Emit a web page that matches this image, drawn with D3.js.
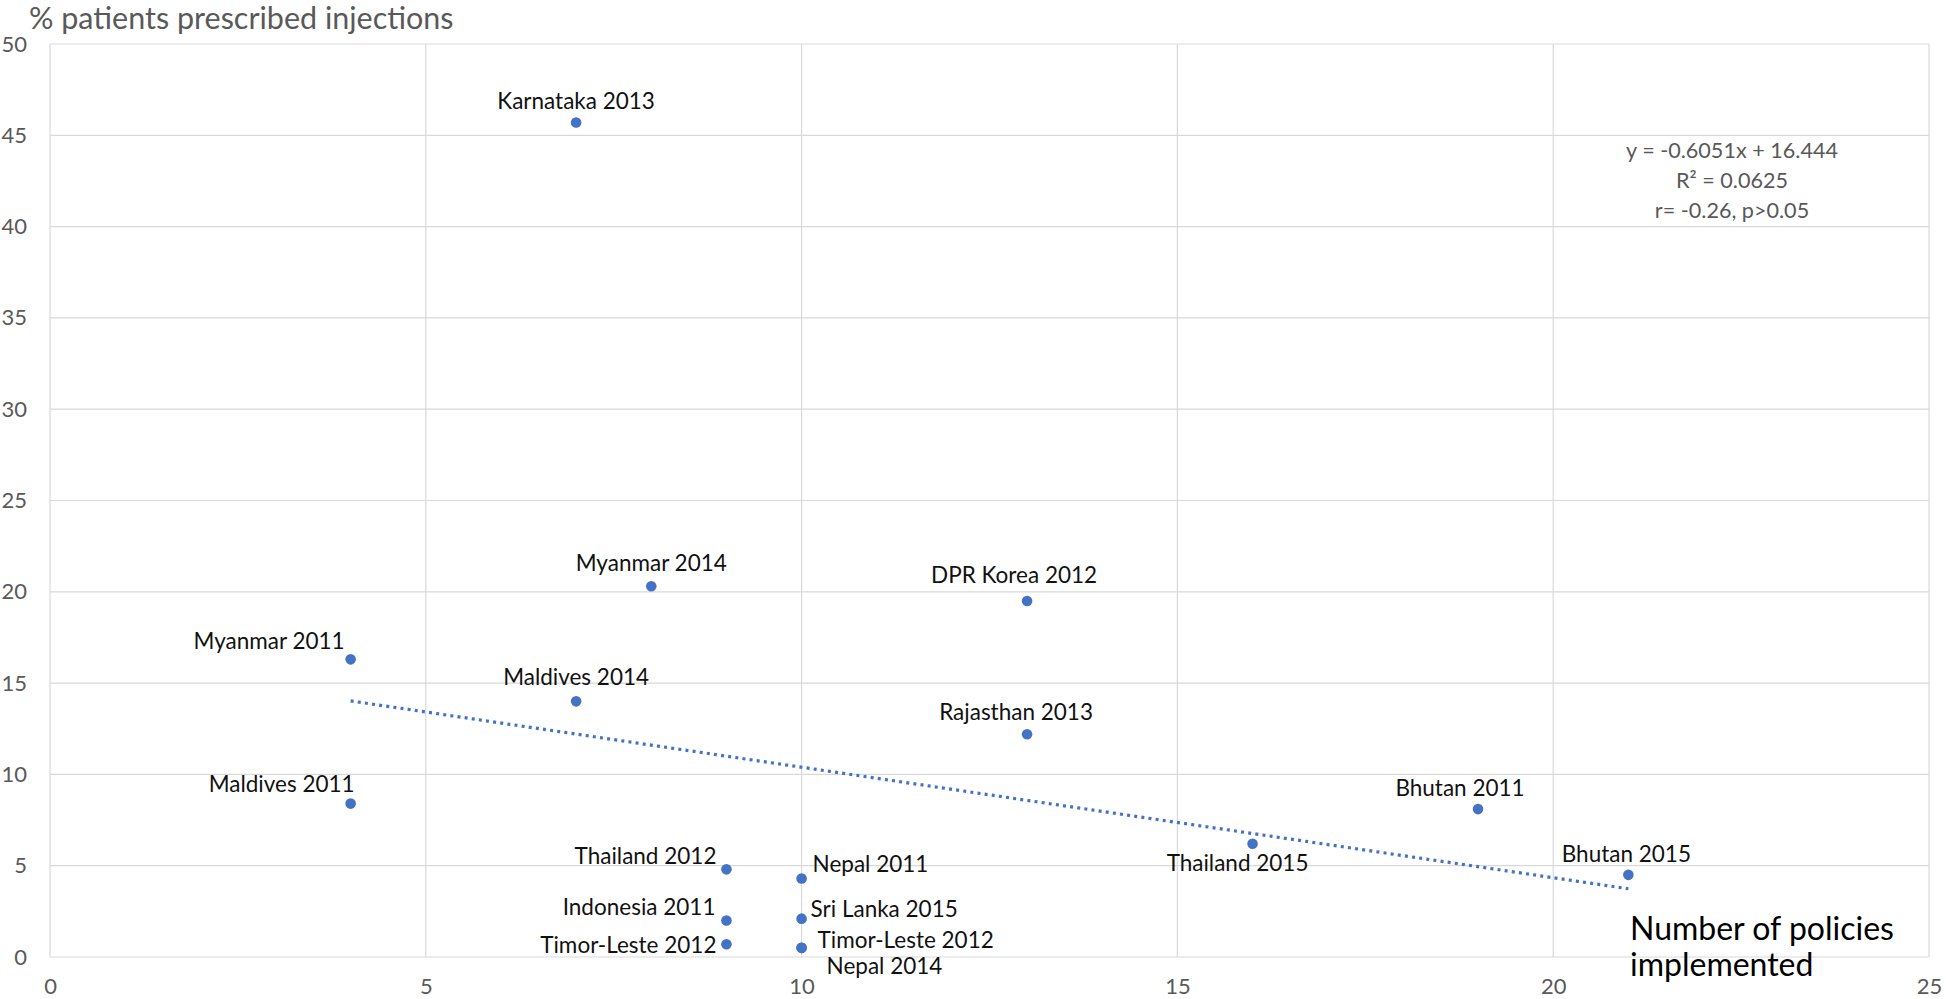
<!DOCTYPE html>
<html>
<head>
<meta charset="utf-8">
<script src="https://cdn.jsdelivr.net/npm/d3@7/dist/d3.min.js"></script>
<style>
  html, body { margin: 0; padding: 0; background: #fff; }
  svg { display: block; font-family: Lato, "Open Sans", sans-serif; }
</style>
</head>
<body>
<svg id="chart" width="1946" height="999"></svg>
<script>
// ---- data ----
const labels = ["Karnataka 2013", "Myanmar 2014", "DPR Korea 2012", "Myanmar 2011", "Maldives 2014",
  "Rajasthan 2013", "Maldives 2011", "Bhutan 2011", "Thailand 2015", "Thailand 2012", "Nepal 2011",
  "Bhutan 2015", "Indonesia 2011", "Sri Lanka 2015", "Timor-Leste 2012", "Timor-Leste 2012", "Nepal 2014"];
const policies = [7, 8, 13, 4, 7, 13, 4, 19, 16, 9, 10, 21, 9, 10, 9, 10, 10];
const injections = [45.7, 20.3, 19.5, 16.3, 14.0, 12.2, 8.4, 8.1, 6.2, 4.8, 4.3, 4.5, 2.0, 2.1, 0.7, 0.5, 0.5];
const xTicks = [0, 5, 10, 15, 20, 25];
const yTicks = [0, 5, 10, 15, 20, 25, 30, 35, 40, 45, 50];
const trendSlope = -0.6051;
const trendIntercept = 16.444;
const trendRange = [4, 21];
const equationLines = ["y = -0.6051x + 16.444", "R\u00B2 = 0.0625", "r= -0.26, p>0.05"];
const yTitle = "% patients prescribed injections";
const xTitleLines = ["Number of policies", "implemented"];

// ---- label layout (anchor, dx, dy) separate from data ----
const labelLayout = [
  ["middle", 0, -22], ["middle", 0, -24], ["middle", -13, -26], ["end", -6, -19], ["middle", 0, -25],
  ["middle", -11, -23], ["end", 4, -20], ["middle", -18, -22], ["middle", -15, 19], ["end", -10, -14],
  ["start", 11, -15], ["middle", -2, -21], ["end", -11, -14], ["start", 9, -10], ["end", -10, 0],
  ["start", 16, -8], ["start", 25, 18]
];

// ---- layout ----
const svg = d3.select("#chart");
const mLeft = 50, mRight = 1929, mTop = 44, mBottom = 957;
const x = d3.scaleLinear().domain([0, 25]).range([mLeft, mRight]);
const y = d3.scaleLinear().domain([0, 50]).range([mBottom, mTop]);
const blue = "#4472C4", grey = "#595959", grid = "#d9d9d9";

// gridlines
svg.append("g").selectAll("line").data(yTicks).join("line")
  .attr("x1", mLeft).attr("x2", mRight)
  .attr("y1", d => y(d)).attr("y2", d => y(d))
  .attr("stroke", grid).attr("stroke-width", 1.2);
svg.append("g").selectAll("line").data(xTicks).join("line")
  .attr("y1", mTop).attr("y2", mBottom)
  .attr("x1", d => x(d)).attr("x2", d => x(d))
  .attr("stroke", grid).attr("stroke-width", 1.2);

// axes (tick labels only)
const yAxis = svg.append("g").attr("transform", `translate(${mLeft},0)`)
  .call(d3.axisLeft(y).tickValues(yTicks).tickSize(0).tickPadding(23));
yAxis.select(".domain").remove();
yAxis.selectAll("text").attr("font-size", 22).attr("fill", grey).attr("font-family", "Lato");

const xAxis = svg.append("g").attr("transform", `translate(0,${mBottom})`)
  .call(d3.axisBottom(x).tickValues(xTicks).tickSize(0).tickPadding(21));
xAxis.select(".domain").remove();
xAxis.selectAll("text").attr("font-size", 22).attr("fill", grey).attr("font-family", "Lato");

// trendline
const trendLine = d3.line().x(d => x(d)).y(d => y(trendSlope * d + trendIntercept));
svg.append("path").datum(trendRange).attr("d", trendLine)
  .attr("fill", "none").attr("stroke", blue).attr("stroke-width", 3.2)
  .attr("stroke-dasharray", "3,4.2");

// points
const pts = labels.map((l, i) => ({ label: l, x: policies[i], y: injections[i], lay: labelLayout[i] }));
svg.append("g").selectAll("circle").data(pts).join("circle")
  .attr("cx", d => x(d.x)).attr("cy", d => y(d.y)).attr("r", 5.3).attr("fill", blue);

// data labels
svg.append("g").selectAll("text").data(pts).join("text")
  .attr("x", d => x(d.x) + d.lay[1]).attr("y", d => y(d.y) + d.lay[2])
  .attr("text-anchor", d => d.lay[0]).attr("dominant-baseline", "central")
  .attr("font-size", 22.5).attr("fill", "#111").text(d => d.label);

// equation
svg.append("g").selectAll("text").data(equationLines).join("text")
  .attr("x", 1732).attr("y", (d, i) => 150 + i * 30)
  .attr("text-anchor", "middle").attr("dominant-baseline", "central")
  .attr("font-size", 21.6).attr("fill", grey).text(d => d);

// titles
svg.append("text").attr("x", 29).attr("y", 17).attr("dominant-baseline", "central")
  .attr("font-size", 30.5).attr("fill", grey).text(yTitle);
svg.append("g").selectAll("text").data(xTitleLines).join("text")
  .attr("x", 1630).attr("y", (d, i) => 927 + i * 36).attr("dominant-baseline", "central")
  .attr("font-size", 32).attr("fill", "#000").text(d => d);
</script>
</body>
</html>
